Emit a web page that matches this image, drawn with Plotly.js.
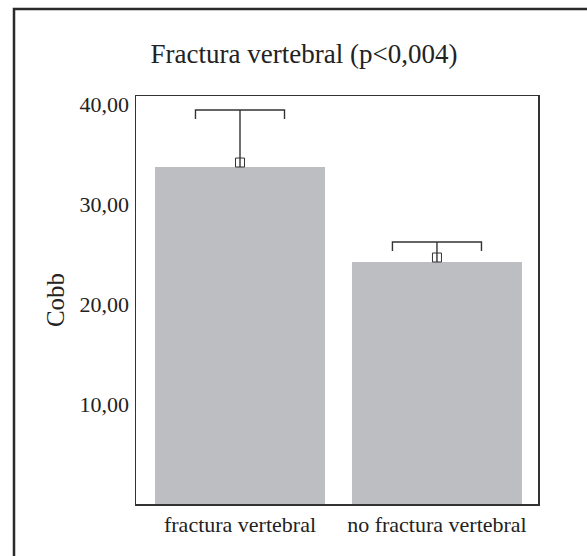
<!DOCTYPE html>
<html>
<head>
<meta charset="utf-8">
<script src="https://cdn.plot.ly/plotly-3.0.1.min.js"></script>
<style>
html,body{margin:0;padding:0;background:#fff;}
#chart{width:587px;height:556px;}
</style>
</head>
<body>
<div id="chart"></div>
<script>
// Data
const categories = ['fractura vertebral', 'no fractura vertebral'];
const meanValues = [33.7, 24.2];
const upperValues = [39.4, 26.2];
const yTickValues = [10, 20, 30, 40];
const yTickLabels = ['10,00', '20,00', '30,00', '40,00'];
const chartTitle = 'Fractura vertebral (p<0,004)';
const yTitle = 'Cobb';

const xIdx = categories.map((c, i) => i);
const capHalf = 0.226;   // half width of the bracket cap (x data units)
const capDrop = 0.9;     // downward ends of the bracket (y data units)
const sqOffset = 0.45;   // square marker sits just on top of the bar

// Build bracket + whisker lines from the data
const lx = [], ly = [];
xIdx.forEach((x, i) => {
  const top = upperValues[i];
  lx.push(x - capHalf, x - capHalf, x + capHalf, x + capHalf, null, x, x, null);
  ly.push(top - capDrop, top, top, top - capDrop, null, meanValues[i], top, null);
});

const lineColor = '#333333';
const font = '"Liberation Serif", "Times New Roman", serif';

const traces = [
  {
    type: 'bar',
    x: xIdx,
    y: meanValues,
    width: 0.863,
    marker: {color: '#bdbec2', line: {width: 0}},
    hoverinfo: 'skip'
  },
  {
    type: 'scatter',
    mode: 'lines',
    x: lx,
    y: ly,
    line: {color: lineColor, width: 1.4},
    connectgaps: false,
    hoverinfo: 'skip'
  },
  {
    type: 'scatter',
    mode: 'markers',
    x: xIdx,
    y: meanValues.map(v => v + sqOffset),
    marker: {symbol: 'square-open', size: 9, color: lineColor, line: {width: 1, color: lineColor}},
    hoverinfo: 'skip'
  }
];

const plotL = 136, plotR = 538, plotT = 96, plotB = 504;
const W = 587, H = 556;
const pw = plotR - plotL, ph = plotB - plotT;

const layout = {
  width: W,
  height: H,
  showlegend: false,
  paper_bgcolor: '#ffffff',
  plot_bgcolor: '#ffffff',
  margin: {l: plotL, r: W - plotR, t: plotT, b: H - plotB, pad: 0},
  font: {family: font, color: '#222222'},
  title: {
    text: chartTitle,
    font: {family: font, size: 27, color: '#222222'},
    x: 304 / W,
    xanchor: 'center',
    xref: 'container',
    y: 1 - 54 / H,
    yref: 'container',
    yanchor: 'middle'
  },
  xaxis: {
    range: [-0.528, 1.513],
    tickmode: 'array',
    tickvals: xIdx,
    ticktext: categories,
    tickfont: {family: font, size: 22, color: '#222222'},
    ticks: '',
    showgrid: false,
    zeroline: false,
    showline: true,
    mirror: true,
    linecolor: lineColor,
    linewidth: 1.5,
    fixedrange: true
  },
  yaxis: {
    range: [0, 40.8],
    tickmode: 'array',
    tickvals: yTickValues,
    ticktext: yTickLabels,
    tickfont: {family: font, size: 22, color: '#222222'},
    ticks: 'outside',
    ticklen: 1,
    tickcolor: 'rgba(0,0,0,0)',
    showgrid: false,
    zeroline: false,
    showline: true,
    mirror: true,
    linecolor: lineColor,
    linewidth: 1.5,
    title: {text: yTitle, font: {family: font, size: 25, color: '#222222'}, standoff: 8},
    fixedrange: true
  },
  shapes: [
    {
      type: 'rect',
      xref: 'paper', yref: 'paper',
      x0: (14 - plotL) / pw, x1: (640 - plotL) / pw,
      y0: (plotB - 620) / ph, y1: (plotB - 9) / ph,
      line: {color: '#2a2a2a', width: 2.5},
      fillcolor: 'rgba(0,0,0,0)',
      layer: 'below'
    }
  ]
};

Plotly.newPlot('chart', traces, layout, {staticPlot: true, displayModeBar: false});
</script>
</body>
</html>
